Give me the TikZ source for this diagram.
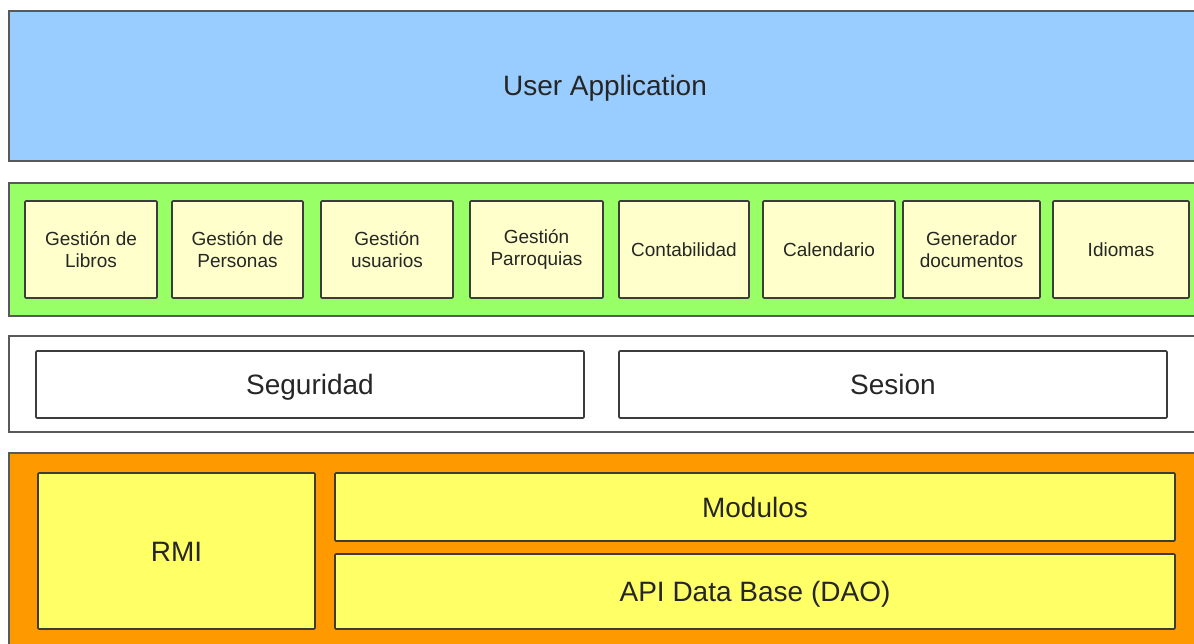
\documentclass[tikz,border=0pt]{standalone}
\usepackage{fontspec}
\setmainfont{Liberation Sans}
\definecolor{cblue}{HTML}{99CCFF}
\definecolor{cgreen}{HTML}{99FF66}
\definecolor{clight}{HTML}{FFFFCC}
\definecolor{cyellow}{HTML}{FFFF66}
\definecolor{corange}{HTML}{FF9900}
\definecolor{ctext}{HTML}{262626}
\definecolor{cline}{HTML}{3C3C3C}
\tikzset{
  layer/.style={draw=cline!85, line width=1.6pt, inner sep=0pt, text=ctext,
    text height=20pt, text depth=0pt,
    font=\fontsize{28}{32}\selectfont},
  modbox/.style={draw=cline, line width=1.6pt, fill=clight, inner sep=0pt,
    rounded corners=1pt, align=center, text=ctext,
    font=\fontsize{19}{22}\selectfont},
  bigbox/.style={draw=cline, line width=1.6pt, inner sep=0pt,
    text height=20pt, text depth=0pt,
    rounded corners=1pt, text=ctext, font=\fontsize{28}{32}\selectfont},
}
% place a node by its corners (x1,y1,x2,y2 in px, y downward)
\newcommand{\boxat}[7]{%
  \node[#1, minimum width={(#5-#3)*1pt}, minimum height={(#6-#4)*1pt}]
    (#2) at ({(#3+#5)/2},{(#4+#6)/2}) {#7};}
\begin{document}
\begin{tikzpicture}[x=1pt,y=-1pt]
\useasboundingbox (0,0) rectangle (1194,644);
\clip (0,0) rectangle (1194,644);
\fill[white] (0,0) rectangle (1194,644);
% layers
\boxat{layer, fill=cblue}{ua}{9}{11}{1201}{161}{User Application}
\boxat{layer, fill=cgreen}{mods}{9}{183}{1201}{316}{}
\boxat{layer, fill=white}{sec}{9}{336}{1201}{432}{}
\boxat{layer, fill=corange}{core}{9}{453}{1201}{660}{}
% module boxes
\boxat{modbox}{libros}{25}{201}{157}{298}{Gestión de\\Libros}
\boxat{modbox}{personas}{172}{201}{303}{298}{Gestión de\\Personas}
\boxat{modbox}{usuarios}{321}{201}{453}{298}{Gestión\\usuarios}
\boxat{modbox}{parroquias}{470}{201}{603}{298}{Gestión\\Parroquias}
\boxat{modbox}{contab}{619}{201}{749}{298}{Contabilidad}
\boxat{modbox}{calend}{763}{201}{895}{298}{Calendario}
\boxat{modbox}{gendoc}{903}{201}{1040}{298}{Generador\\documentos}
\boxat{modbox}{idiomas}{1053}{201}{1189}{298}{Idiomas}
% security layer
\boxat{bigbox, fill=white}{seguridad}{36}{351}{584}{418}{Seguridad}
\boxat{bigbox, fill=white}{sesion}{619}{351}{1167}{418}{Sesion}
% core layer
\boxat{bigbox, fill=cyellow}{rmi}{38}{473}{315}{629}{RMI}
\boxat{bigbox, fill=cyellow}{modulos}{335}{473}{1175}{541}{Modulos}
\boxat{bigbox, fill=cyellow}{api}{335}{554}{1175}{629}{API Data Base (DAO)}
\end{tikzpicture}
\end{document}
